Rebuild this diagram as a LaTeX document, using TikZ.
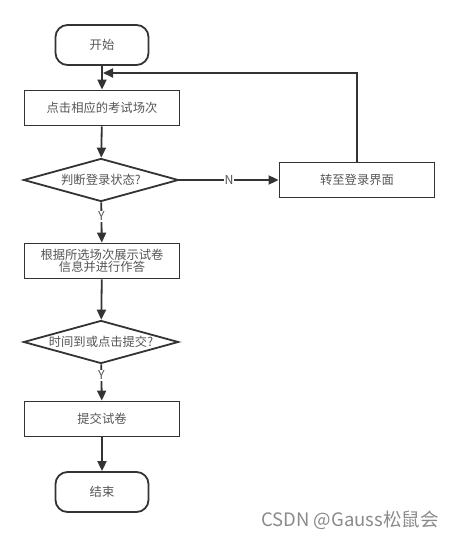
\documentclass[tikz,border=0pt]{standalone}
\usepackage{fontspec}
\setmainfont{Noto Sans CJK SC}
\usepackage{xcolor}
\usetikzlibrary{arrows.meta, shapes.geometric}

\definecolor{linegray}{HTML}{333333}
\definecolor{textgray}{HTML}{555555}
\definecolor{markgray}{HTML}{8A8A8A}

\begin{document}
\begin{tikzpicture}[x=1pt, y=-1pt,
    every node/.style={font=\fontsize{12.3}{15}\selectfont, text=textgray},
    terminal/.style={draw=linegray, line width=1.8pt, rounded corners=12pt,
                     minimum width=93pt, minimum height=40pt},
    process/.style={draw=linegray, line width=1.8pt, minimum width=155pt,
                    minimum height=35pt, align=center},
    decision/.style={draw=linegray, line width=1.8pt, diamond, aspect=3.8,
                     inner sep=-3pt, minimum width=155pt, minimum height=43pt},
    flow/.style={draw=linegray, line width=1.8pt, -{Triangle[length=10pt, width=9pt]}},
    answer/.style={fill=white, inner sep=1pt}]
    %\draw[help lines] (0,0) grid[step=20] (459,538);
    \useasboundingbox (0,0) rectangle (459,538);

    \node[terminal] (start)   at (102,45)  {开始};
    \node[process]  (pick)    at (102,108) {点击相应的考试场次};
    \node[decision] (login)   at (101,180) {判断登录状态?};
    \node[process]  (relogin) at (357,180) {转至登录界面};
    \node[process]  (answer)  at (102,261) {根据所选场次展示试卷\\[-3pt]信息并进行作答};
    \node[decision] (submit)  at (101,342) {时间到或点击提交?};
    \node[process]  (hand)    at (102,419) {提交试卷};
    \node[terminal] (stop)    at (102,492) {结束};
    \coordinate (back) at (103,73);

    \draw[flow] (start) -- (pick);
    \draw[flow] (pick) -- (login);
    \draw[flow] (login) -- node[answer] {N} (relogin);
    \draw[flow] (relogin.north) |- (back);
    \draw[flow] (login) -- node[answer, pos=0.35] {Y} (answer);
    \draw[flow] (answer) -- (submit);
    \draw[flow] (submit) -- node[answer, pos=0.3] {Y} (hand);
    \draw[flow] (hand) -- (stop);

    \node[font=\fontsize{18.5}{20}\selectfont, text=markgray] (mark) at (350,520) {CSDN @Gauss松鼠会};
\end{tikzpicture}
\end{document}
